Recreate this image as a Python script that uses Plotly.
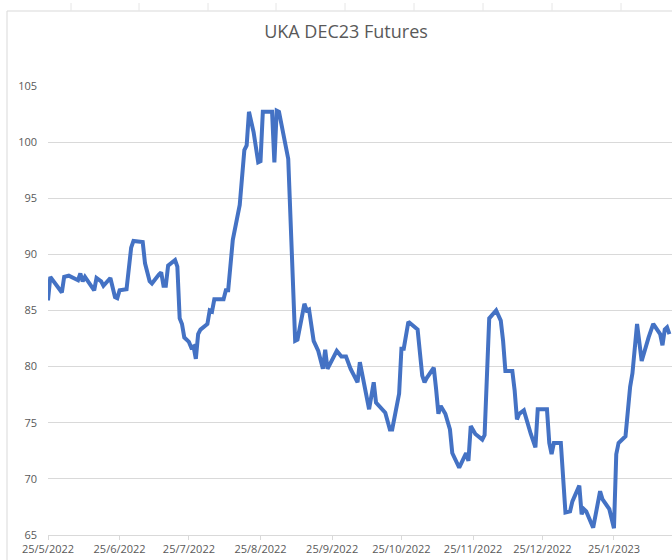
import plotly.graph_objects as go

title_text = "UKA DEC23 Futures"

dates = [
    "2022-05-25", "2022-05-26", "2022-05-31", "2022-06-01", "2022-06-03", "2022-06-07", "2022-06-08",
    "2022-06-09", "2022-06-10", "2022-06-14", "2022-06-15", "2022-06-17", "2022-06-18", "2022-06-21",
    "2022-06-23", "2022-06-24", "2022-06-25", "2022-06-28", "2022-06-30", "2022-07-01", "2022-07-05",
    "2022-07-06", "2022-07-08", "2022-07-09", "2022-07-12", "2022-07-13", "2022-07-14", "2022-07-15",
    "2022-07-16", "2022-07-19", "2022-07-20", "2022-07-21", "2022-07-22", "2022-07-23", "2022-07-25",
    "2022-07-26", "2022-07-27", "2022-07-28", "2022-07-29", "2022-07-30", "2022-08-02", "2022-08-03",
    "2022-08-04", "2022-08-05", "2022-08-09", "2022-08-10", "2022-08-11", "2022-08-12", "2022-08-13",
    "2022-08-16", "2022-08-17", "2022-08-18", "2022-08-19", "2022-08-20", "2022-08-22", "2022-08-24",
    "2022-08-25", "2022-08-26", "2022-08-30", "2022-08-31", "2022-09-01", "2022-09-02", "2022-09-06",
    "2022-09-08", "2022-09-09", "2022-09-10", "2022-09-13", "2022-09-14", "2022-09-15", "2022-09-17",
    "2022-09-19", "2022-09-21", "2022-09-22", "2022-09-23", "2022-09-25", "2022-09-27", "2022-09-29",
    "2022-10-01", "2022-10-03", "2022-10-06", "2022-10-07", "2022-10-09", "2022-10-11", "2022-10-13",
    "2022-10-14", "2022-10-18", "2022-10-20", "2022-10-21", "2022-10-24", "2022-10-25", "2022-10-26",
    "2022-10-28", "2022-10-31", "2022-11-01", "2022-11-03", "2022-11-04", "2022-11-05", "2022-11-08",
    "2022-11-09", "2022-11-10", "2022-11-11", "2022-11-13", "2022-11-15", "2022-11-16", "2022-11-19",
    "2022-11-21", "2022-11-22", "2022-11-23", "2022-11-24", "2022-11-26", "2022-11-29", "2022-11-30",
    "2022-12-01", "2022-12-02", "2022-12-05", "2022-12-07", "2022-12-08", "2022-12-09", "2022-12-12",
    "2022-12-13", "2022-12-14", "2022-12-15", "2022-12-17", "2022-12-19", "2022-12-20", "2022-12-22",
    "2022-12-23", "2022-12-27", "2022-12-28", "2022-12-29", "2022-12-30", "2023-01-02", "2023-01-04",
    "2023-01-06", "2023-01-07", "2023-01-10", "2023-01-11", "2023-01-12", "2023-01-13", "2023-01-16",
    "2023-01-19", "2023-01-20", "2023-01-23", "2023-01-25", "2023-01-26", "2023-01-27", "2023-01-30",
    "2023-02-01", "2023-02-02", "2023-02-04", "2023-02-06", "2023-02-09", "2023-02-11", "2023-02-14",
    "2023-02-15", "2023-02-16", "2023-02-17", "2023-02-18",
]

prices = [
    85.9, 88.0, 86.6, 88.0, 88.1, 87.7, 88.3,
    87.6, 88.0, 86.8, 87.9, 87.6, 87.2, 87.9,
    86.2, 86.1, 86.8, 86.9, 90.6, 91.2, 91.1,
    89.2, 87.6, 87.4, 88.2, 88.4, 87.2, 87.2,
    89.0, 89.5, 88.9, 84.3, 83.8, 82.6, 82.2,
    81.7, 81.8, 80.7, 82.9, 83.3, 83.8, 85.0,
    84.9, 86.0, 86.0, 86.8, 86.8, 89.5, 91.3,
    94.4, 97.5, 99.3, 99.7, 102.7, 100.9, 98.2,
    98.3, 102.7, 102.7, 98.2, 102.8, 102.7, 98.5,
    86.0, 82.3, 82.4, 85.6, 85.0, 85.1, 82.3,
    81.4, 79.8, 81.5, 79.8, 80.7, 81.4, 80.9,
    80.9, 79.8, 78.6, 80.4, 78.5, 76.2, 78.6,
    76.8, 75.9, 74.4, 74.4, 77.6, 81.6, 81.6,
    84.0, 83.4, 83.3, 79.2, 78.6, 79.0, 79.9,
    78.0, 75.8, 76.5, 75.8, 74.4, 72.3, 71.0,
    71.9, 72.3, 71.6, 74.7, 74.0, 73.5, 73.9,
    79.9, 84.3, 85.0, 84.1, 82.3, 79.6, 79.6,
    77.9, 75.3, 75.8, 76.1, 74.6, 74.0, 72.8,
    76.2, 76.2, 73.2, 72.2, 73.2, 73.2, 67.0,
    67.1, 68.0, 69.4, 66.85, 67.3, 67.1, 65.65,
    68.9, 68.2, 67.3, 65.6, 72.2, 73.2, 73.8,
    78.2, 79.4, 83.8, 80.5, 82.6, 83.8, 82.9,
    81.9, 83.3, 83.5, 82.9,
]

x_tick_vals = ["2022-05-25", "2022-06-25", "2022-07-25", "2022-08-25", "2022-09-25",
               "2022-10-25", "2022-11-25", "2022-12-25", "2023-01-25"]
x_tick_text = ["25/5/2022", "25/6/2022", "25/7/2022", "25/8/2022", "25/9/2022",
               "25/10/2022", "25/11/2022", "25/12/2022", "25/1/2023"]
y_tick_vals = [65, 70, 75, 80, 85, 90, 95, 100, 105]

GRID = "#d9d9d9"
TEXT = "#595959"
FONT = "Open Sans"

fig = go.Figure()
fig.add_trace(go.Scatter(
    x=dates, y=prices, mode="lines",
    line=dict(color="#4472C4", width=4),
    showlegend=False, hoverinfo="skip",
))

W, H = 672, 560
L, R, T, B = 48, 0, 86, 25
pw, ph = W - L - R, H - T - B

def px_x(x):
    return (x - L) / pw

def px_y(y):
    return (H - B - y) / ph

shapes = []
# chart area border (partially visible)
shapes.append(dict(type="line", xref="paper", yref="paper",
                   x0=px_x(7), x1=px_x(700), y0=px_y(11), y1=px_y(11),
                   line=dict(color=GRID, width=1)))
shapes.append(dict(type="line", xref="paper", yref="paper",
                   x0=px_x(7), x1=px_x(7), y0=px_y(11), y1=px_y(600),
                   line=dict(color=GRID, width=1)))
# faint tick remnants of the chart above
for tx in [71, 139, 208, 276, 345, 414, 483, 552, 621]:
    shapes.append(dict(type="line", xref="paper", yref="paper",
                       x0=px_x(tx), x1=px_x(tx), y0=px_y(3), y1=px_y(11),
                       line=dict(color="#e6e6e6", width=1)))

fig.update_layout(
    width=W, height=H,
    margin=dict(l=L, r=R, t=T, b=B, pad=0),
    paper_bgcolor="white", plot_bgcolor="white",
    font=dict(family=FONT, color=TEXT, size=11),
    title=dict(text=title_text, x=346 / W, xref="container", xanchor="center",
               y=1 - 32 / H, yref="container", yanchor="middle",
               font=dict(family=FONT, size=18, color=TEXT)),
    shapes=shapes,
    xaxis=dict(
        type="date",
        range=["2022-05-25", "2023-02-19 03:00"],
        tickvals=x_tick_vals, ticktext=x_tick_text,
        showgrid=False, zeroline=False,
        showline=True, linecolor=GRID, linewidth=1,
        ticks="outside", ticklen=4, tickcolor=GRID,
        tickfont=dict(family=FONT, size=11, color=TEXT),
        fixedrange=True,
    ),
    yaxis=dict(
        range=[65, 105],
        tickvals=y_tick_vals,
        showgrid=True, gridcolor=GRID, gridwidth=1,
        zeroline=False, showline=False, ticks="",
        ticklabelstandoff=10,
        tickfont=dict(family=FONT, size=11, color=TEXT),
        fixedrange=True,
    ),
)

fig.write_html(
    "out.html",
    config={"displayModeBar": False},
    post_script="document.body.style.margin='0';document.body.style.overflow='hidden';",
)
